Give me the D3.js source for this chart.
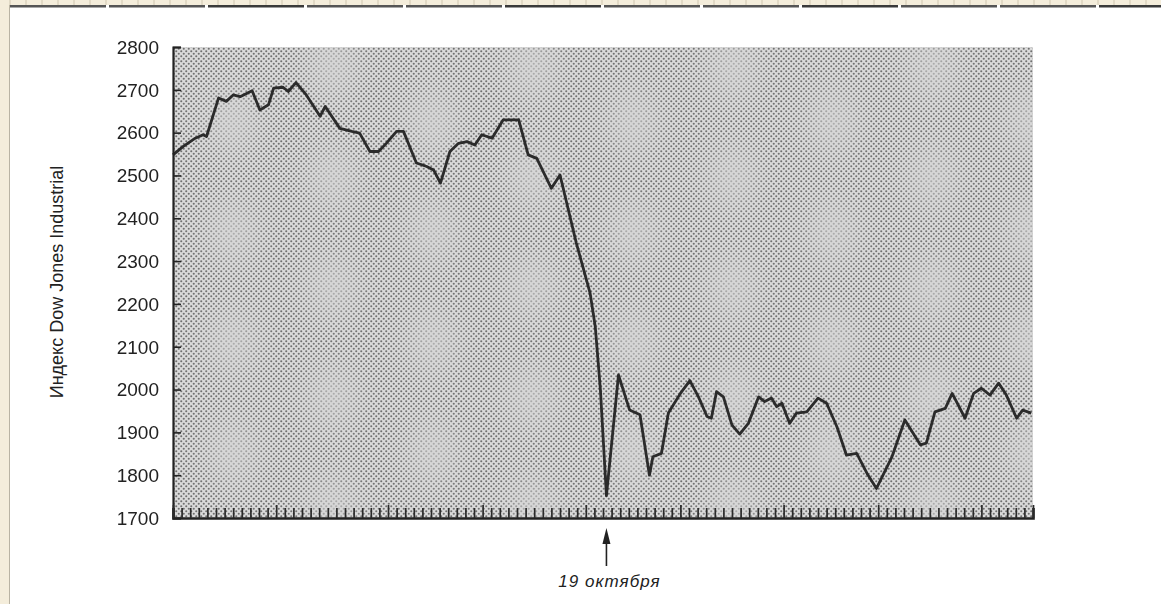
<!DOCTYPE html>
<html lang="ru">
<head>
  <meta charset="utf-8">
  <title>Индекс Dow Jones Industrial</title>
  <script src="https://d3js.org/d3.v7.min.js"></script>
  <style>
    body { margin: 0; background: #fff; }
    svg { display: block; }
    text { font-family: "Liberation Sans", Arial, sans-serif; fill: #222; }
  </style>
</head>
<body>
  <svg width="1161" height="604"></svg>
  <script>
    // торговые дни (индекс от начала графика) и значения индекса
    const day = [0.0, 1.2, 2.6, 3.5, 3.9, 5.3, 6.2, 7.0, 7.8, 9.2, 10.1, 11.1, 11.7, 12.8, 13.4, 14.3,
      15.5, 17.1, 17.7, 19.4, 20.8, 21.7, 22.9, 23.9, 24.8, 26.0, 26.8, 28.3, 29.5, 30.3, 31.1,
      32.2, 33.2, 34.2, 35.1, 35.9, 37.1, 38.4, 40.2, 41.3, 42.3, 44.0, 45.0, 46.9, 48.5, 49.1,
      49.7, 50.4, 51.8, 53.1, 54.3, 55.4, 55.8, 56.8, 57.6, 59.0, 60.1, 61.1, 62.1, 62.6, 63.2,
      64.0, 65.0, 65.9, 66.9, 68.1, 68.8, 69.6, 70.2, 70.8, 71.7, 72.5, 73.7, 75.0, 76.0, 77.2,
      78.3, 79.5, 80.7, 81.8, 83.6, 85.1, 86.9, 87.6, 88.6, 89.8, 90.6, 92.1, 93.1, 94.0, 95.0,
      96.0, 96.9, 98.1, 98.8, 99.8];
    const close = [2548, 2568, 2587, 2595, 2591, 2681, 2673, 2688, 2684, 2698, 2653, 2665, 2704, 2706, 2696, 2717,
      2688, 2638, 2661, 2610, 2603, 2599, 2556, 2556, 2575, 2603, 2603, 2529, 2521, 2513, 2482,
      2556, 2575, 2579, 2571, 2595, 2587, 2630, 2630, 2548, 2540, 2470, 2501, 2342, 2225, 2147,
      1999, 1752, 2034, 1952, 1941, 1800, 1843, 1851, 1945, 1991, 2021, 1983, 1937, 1933, 1995,
      1983, 1917, 1896, 1921, 1983, 1972, 1980, 1960, 1968, 1921, 1945, 1948, 1980, 1968, 1913,
      1847, 1851, 1804, 1769, 1843, 1929, 1871, 1875, 1948, 1956, 1991, 1933, 1991, 2003, 1987,
      2015, 1987, 1933, 1952, 1945];

    const yTicks = [1700, 1800, 1900, 2000, 2100, 2200, 2300, 2400, 2500, 2600, 2700, 2800];
    const dayTicks = d3.range(0, 101);
    const longTicks = [0, 12, 25, 36, 48, 59, 71, 82, 94, 100];
    const crashDay = 50.4;
    const crashLabel = "19 октября";
    const yTitle = "Индекс Dow Jones Industrial";

    const W = 1161, H = 604;
    const m = { top: 47, right: 128, bottom: 86, left: 173 };
    const svg = d3.select("svg");

    // кусочек "рамки" сканированной страницы
    svg.append("rect").attr("x", 0).attr("y", 0).attr("width", 9).attr("height", H).attr("fill", "#f4eddb");
    svg.append("line").attr("x1", 9.5).attr("x2", 9.5).attr("y1", 0).attr("y2", H)
      .attr("stroke", "#b9b3a3").attr("stroke-width", 1);
    svg.append("rect").attr("x", 0).attr("y", 0).attr("width", W).attr("height", 5).attr("fill", "#f4eddb");
    svg.append("g").selectAll("line").data(d3.range(10, W, 16)).join("line")
      .attr("x1", d => d).attr("x2", d => d).attr("y1", 0).attr("y2", 5)
      .attr("stroke", "#cfc6b0").attr("stroke-width", 1);
    svg.append("g").selectAll("rect").data(d3.range(10, W, 99)).join("rect")
      .attr("x", d => d).attr("y", 5).attr("width", 96).attr("height", 2.5)
      .attr("fill", (d, i) => i % 3 === 2 ? "#3a3a3a" : "#555");

    const x = d3.scaleLinear().domain([0, 100]).range([m.left, W - m.right]);
    const y = d3.scaleLinear().domain([1700, 2800]).range([H - m.bottom, m.top]);

    // растр (полутоновая заливка)
    const defs = svg.append("defs");
    const pat = defs.append("pattern").attr("id", "dots")
      .attr("width", 5).attr("height", 5).attr("patternUnits", "userSpaceOnUse");
    pat.append("rect").attr("width", 5).attr("height", 5).attr("fill", "#dadada");
    pat.append("circle").attr("cx", 1.25).attr("cy", 1.25).attr("r", 1.05).attr("fill", "#707070");
    pat.append("circle").attr("cx", 3.75).attr("cy", 3.75).attr("r", 1.05).attr("fill", "#707070");

    defs.append("filter").attr("id", "soft").attr("x", "-20%").attr("y", "-20%")
      .attr("width", "140%").attr("height", "140%")
      .append("feGaussianBlur").attr("stdDeviation", 14);
    defs.append("clipPath").attr("id", "plotclip").append("rect")
      .attr("x", m.left).attr("y", m.top)
      .attr("width", W - m.left - m.right).attr("height", H - m.top - m.bottom);

    const plotW = W - m.left - m.right, plotH = H - m.top - m.bottom;
    svg.append("rect").attr("x", m.left).attr("y", m.top).attr("width", plotW).attr("height", plotH)
      .attr("fill", "url(#dots)");

    // муар: светлые размытые пятна поверх растра
    const spots = [];
    d3.range(m.left - 40, W - m.right + 60, 100).forEach((cx, i) => {
      d3.range(m.top + 20 + (i % 2) * 55, H - m.bottom + 40, 110).forEach(cy => spots.push([cx, cy]));
    });
    svg.append("g").attr("clip-path", "url(#plotclip)")
      .append("g").attr("filter", "url(#soft)")
      .selectAll("path").data(spots).join("path")
      .attr("d", d => `M${d[0]},${d[1] - 38}L${d[0] + 26},${d[1]}L${d[0]},${d[1] + 38}L${d[0] - 26},${d[1]}Z`)
      .attr("fill", "#d4d4d4").attr("opacity", 0.75);

    // линия индекса
    const pts = day.map((d, i) => [d, close[i]]);
    svg.append("path").datum(pts)
      .attr("fill", "none").attr("stroke", "#2b2b2b").attr("stroke-width", 2.8)
      .attr("stroke-linejoin", "round")
      .attr("d", d3.line().x(d => x(d[0])).y(d => y(d[1])));

    // ось Y
    const yAxis = svg.append("g").attr("transform", `translate(${m.left},0)`)
      .call(d3.axisRight(y).tickValues(yTicks).tickSize(8).tickFormat(""));
    yAxis.select(".domain").attr("stroke", "#222").attr("stroke-width", 2.2);
    yAxis.selectAll(".tick line").attr("stroke", "#222").attr("stroke-width", 1.6);
    svg.append("g").selectAll("text").data(yTicks).join("text")
      .attr("x", m.left - 14).attr("y", d => y(d)).attr("dy", "0.36em")
      .attr("text-anchor", "end").style("font-size", "19px")
      .text(d => d);

    svg.append("text")
      .attr("transform", `translate(${57},${282}) rotate(-90)`)
      .attr("text-anchor", "middle").attr("dy", "0.35em")
      .style("font-size", "18px")
      .text(yTitle);

    // ось X с делениями по дням
    const base = H - m.bottom;
    const xAxis = svg.append("g").attr("transform", `translate(0,${base})`)
      .call(d3.axisTop(x).tickValues(dayTicks).tickSize(10).tickFormat(""));
    xAxis.select(".domain").attr("stroke", "#222").attr("stroke-width", 2.6);
    xAxis.selectAll(".tick line").attr("stroke", "#2a2a2a").attr("stroke-width", 1.7)
      .attr("y2", d => longTicks.includes(d) ? -13 : -10);

    // стрелка 19 октября
    const ax = x(crashDay);
    svg.append("line").attr("x1", ax).attr("x2", ax).attr("y1", base + 22).attr("y2", base + 48)
      .attr("stroke", "#222").attr("stroke-width", 1.6);
    svg.append("path")
      .attr("d", d3.line()([[ax, base + 10], [ax - 4, base + 26], [ax + 4, base + 26]]) + "Z")
      .attr("fill", "#222");
    svg.append("text").attr("x", ax + 3).attr("y", base + 69)
      .attr("text-anchor", "middle").style("font-size", "17px").style("font-style", "italic")
      .style("letter-spacing", "1px")
      .text(crashLabel);
  </script>
</body>
</html>
